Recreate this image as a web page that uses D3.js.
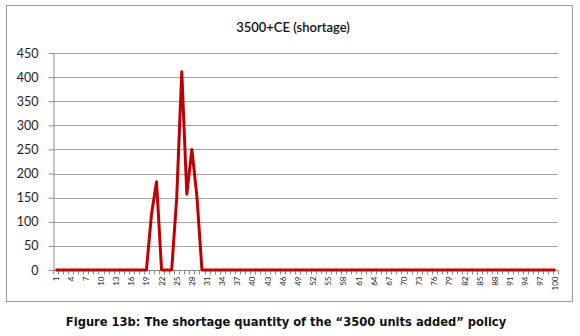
<!DOCTYPE html>
<html><head><meta charset="utf-8">
<script src="https://cdn.jsdelivr.net/npm/d3@7"></script>
<style>body{margin:0;background:#fff}svg{display:block}</style>
</head><body>
<script>
const title = "3500+CE (shortage)";
const caption = "Figure 13b: The shortage quantity of the \u201c3500 units added\u201d policy";
const categories = d3.range(1, 101);
const shortage = [
  0,0,0,0,0,0,0,0,0,0,
  0,0,0,0,0,0,0,0,0,115,
  183,0,0,0,150,411,157,250,152,0,
  0,0,0,0,0,0,0,0,0,0,
  0,0,0,0,0,0,0,0,0,0,
  0,0,0,0,0,0,0,0,0,0,
  0,0,0,0,0,0,0,0,0,0,
  0,0,0,0,0,0,0,0,0,0,
  0,0,0,0,0,0,0,0,0,0,
  0,0,0,0,0,0,0,0,0,0
];
const yTicks = [0,50,100,150,200,250,300,350,400,450];
const xLabels = categories.filter(c => (c - 1) % 3 === 0);

const W = 580, H = 336;
const svg = d3.select("body").append("svg").attr("width", W).attr("height", H);

// outer chart frame
svg.append("rect").attr("x", 6.5).attr("y", 5.5).attr("width", 566).attr("height", 296)
  .attr("fill", "#fff").attr("stroke", "#9a9a9a");

const x0 = 53, x1 = 558, yTop = 53, yBot = 270;
const x = d3.scalePoint().domain(categories).range([x0, x1]).padding(0.5);
const y = d3.scaleLinear().domain([0, 450]).range([yBot, yTop]);

// gridlines
svg.append("g").selectAll("line").data(yTicks.filter(t => t > 0)).join("line")
  .attr("x1", x0).attr("x2", x1)
  .attr("y1", d => Math.round(y(d)) + 0.5).attr("y2", d => Math.round(y(d)) + 0.5)
  .attr("stroke", "#a6a6a6").attr("stroke-width", 1);

// y axis
const yAxis = d3.axisLeft(y).tickValues(yTicks).tickSize(5).tickPadding(10)
  .tickSizeOuter(0);
const gy = svg.append("g").attr("transform", `translate(${x0 + 0.5},0)`).call(yAxis);
gy.selectAll("line").attr("stroke", "#8c8c8c");
gy.select(".domain").attr("stroke", "#8c8c8c");
gy.selectAll("text").attr("font-family", "Lato, 'Open Sans', sans-serif")
  .attr("font-size", 12.5).attr("fill", "#222");

// x axis: domain line + category boundary tick marks
const gx = svg.append("g").attr("transform", `translate(0,${yBot + 0.5})`);
gx.append("line").attr("x1", x0).attr("x2", x1).attr("y1", 0).attr("y2", 0)
  .attr("stroke", "#8c8c8c");
const step = x.step();
gx.selectAll("line.tk").data(d3.range(0, categories.length + 1)).join("line")
  .attr("class", "tk")
  .attr("x1", i => Math.round(x0 + i * step) + 0.5).attr("x2", i => Math.round(x0 + i * step) + 0.5)
  .attr("y1", 0).attr("y2", 4).attr("stroke", "#8c8c8c");
gx.selectAll("text").data(xLabels).join("text")
  .attr("transform", d => `translate(${x(d) + 3},6) rotate(-90)`)
  .attr("text-anchor", "end")
  .attr("font-family", "Lato, 'Open Sans', sans-serif")
  .attr("font-size", 8).attr("fill", "#222")
  .text(d => d);

// line
const line = d3.line().x((d, i) => x(categories[i])).y(d => y(d));
svg.append("path").datum(shortage).attr("d", line)
  .attr("fill", "none").attr("stroke", "#c00000").attr("stroke-width", 3)
  .attr("stroke-linejoin", "round");

// title
svg.append("text").attr("x", 293).attr("y", 32).attr("text-anchor", "middle")
  .attr("font-family", "Lato, 'Open Sans', sans-serif").attr("font-size", 13)
  .attr("font-weight", 600)
  .attr("fill", "#111").text(title);

// caption
svg.append("text").attr("x", 286).attr("y", 326).attr("text-anchor", "middle")
  .attr("font-family", "'DejaVu Sans Condensed', 'DejaVu Sans', sans-serif")
  .attr("font-weight", "bold").attr("font-size", 12.8)
  .attr("fill", "#111").text(caption);
</script>
</body></html>
